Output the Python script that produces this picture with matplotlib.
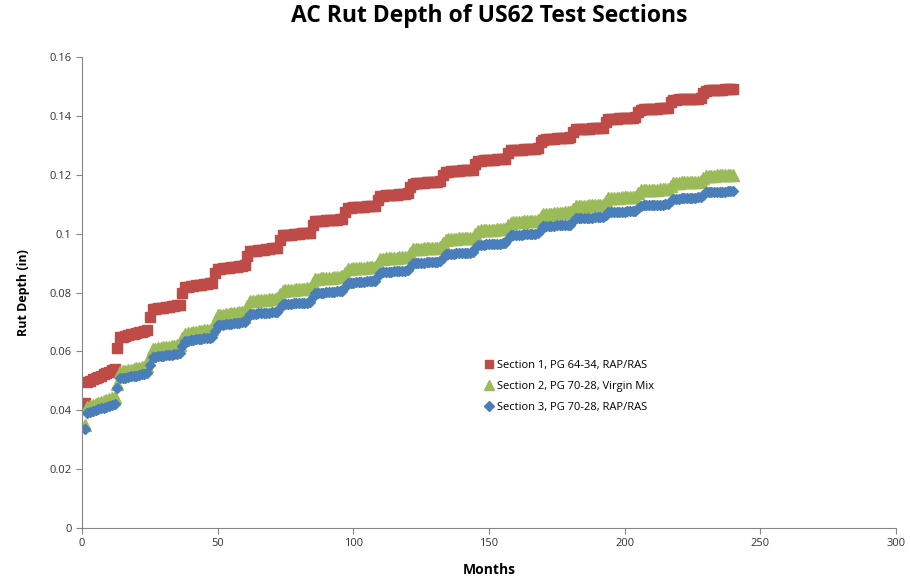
import matplotlib.pyplot as plt

# Monthly rut depth (in), one row per year
months = list(range(1, 241))

section1 = [
    0.0425, 0.0496, 0.0500, 0.0505, 0.0509, 0.0514, 0.0518, 0.0522, 0.0527, 0.0531, 0.0536, 0.0540,
    0.0610, 0.0648, 0.0650, 0.0653, 0.0655, 0.0658, 0.0660, 0.0662, 0.0665, 0.0667, 0.0670, 0.0672,
    0.0718, 0.0743, 0.0745, 0.0746, 0.0748, 0.0749, 0.0751, 0.0752, 0.0754, 0.0755, 0.0757, 0.0758,
    0.0798, 0.0818, 0.0819, 0.0821, 0.0822, 0.0824, 0.0825, 0.0826, 0.0828, 0.0829, 0.0831, 0.0832,
    0.0866, 0.0880, 0.0881, 0.0882, 0.0884, 0.0885, 0.0886, 0.0887, 0.0888, 0.0890, 0.0891, 0.0892,
    0.0925, 0.0940, 0.0941, 0.0942, 0.0944, 0.0945, 0.0946, 0.0947, 0.0948, 0.0950, 0.0951, 0.0952,
    0.0978, 0.0995, 0.0996, 0.0997, 0.0997, 0.0998, 0.0999, 0.1000, 0.1001, 0.1001, 0.1002, 0.1003,
    0.1028, 0.1042, 0.1043, 0.1044, 0.1044, 0.1045, 0.1046, 0.1047, 0.1048, 0.1048, 0.1049, 0.1050,
    0.1073, 0.1087, 0.1088, 0.1089, 0.1089, 0.1090, 0.1091, 0.1092, 0.1093, 0.1093, 0.1094, 0.1095,
    0.1116, 0.1128, 0.1129, 0.1130, 0.1131, 0.1132, 0.1133, 0.1133, 0.1134, 0.1135, 0.1136, 0.1137,
    0.1158, 0.1170, 0.1171, 0.1172, 0.1172, 0.1173, 0.1174, 0.1175, 0.1176, 0.1176, 0.1177, 0.1178,
    0.1198, 0.1210, 0.1211, 0.1212, 0.1212, 0.1213, 0.1214, 0.1215, 0.1216, 0.1216, 0.1217, 0.1218,
    0.1236, 0.1247, 0.1248, 0.1249, 0.1249, 0.1250, 0.1251, 0.1252, 0.1253, 0.1253, 0.1254, 0.1255,
    0.1273, 0.1284, 0.1285, 0.1285, 0.1286, 0.1286, 0.1287, 0.1287, 0.1288, 0.1288, 0.1289, 0.1290,
    0.1310, 0.1320, 0.1321, 0.1321, 0.1322, 0.1323, 0.1324, 0.1324, 0.1325, 0.1326, 0.1326, 0.1327,
    0.1345, 0.1355, 0.1355, 0.1356, 0.1356, 0.1357, 0.1357, 0.1358, 0.1358, 0.1359, 0.1359, 0.1360,
    0.1380, 0.1390, 0.1390, 0.1391, 0.1391, 0.1392, 0.1392, 0.1393, 0.1393, 0.1394, 0.1394, 0.1395,
    0.1413, 0.1422, 0.1423, 0.1423, 0.1424, 0.1424, 0.1425, 0.1425, 0.1426, 0.1426, 0.1427, 0.1428,
    0.1446, 0.1455, 0.1455, 0.1456, 0.1456, 0.1457, 0.1457, 0.1458, 0.1458, 0.1459, 0.1459, 0.1460,
    0.1478, 0.1486, 0.1487, 0.1487, 0.1488, 0.1488, 0.1489, 0.1489, 0.1490, 0.1490, 0.1491, 0.1492,
]

section2 = [
    0.0350, 0.0410, 0.0414, 0.0417, 0.0421, 0.0424, 0.0428, 0.0431, 0.0435, 0.0438, 0.0442, 0.0445,
    0.0490, 0.0530, 0.0532, 0.0534, 0.0536, 0.0538, 0.0540, 0.0542, 0.0544, 0.0546, 0.0548, 0.0550,
    0.0585, 0.0608, 0.0609, 0.0611, 0.0612, 0.0614, 0.0615, 0.0616, 0.0618, 0.0619, 0.0621, 0.0622,
    0.0645, 0.0660, 0.0662, 0.0663, 0.0665, 0.0666, 0.0668, 0.0669, 0.0671, 0.0672, 0.0674, 0.0675,
    0.0700, 0.0722, 0.0723, 0.0725, 0.0726, 0.0727, 0.0729, 0.0730, 0.0731, 0.0733, 0.0734, 0.0735,
    0.0755, 0.0770, 0.0771, 0.0772, 0.0773, 0.0774, 0.0775, 0.0776, 0.0777, 0.0778, 0.0779, 0.0780,
    0.0795, 0.0806, 0.0807, 0.0808, 0.0809, 0.0810, 0.0811, 0.0811, 0.0812, 0.0813, 0.0814, 0.0815,
    0.0832, 0.0846, 0.0847, 0.0848, 0.0849, 0.0850, 0.0851, 0.0851, 0.0852, 0.0853, 0.0854, 0.0855,
    0.0868, 0.0880, 0.0881, 0.0882, 0.0882, 0.0883, 0.0884, 0.0885, 0.0886, 0.0886, 0.0887, 0.0888,
    0.0902, 0.0914, 0.0915, 0.0916, 0.0916, 0.0917, 0.0918, 0.0919, 0.0920, 0.0920, 0.0921, 0.0922,
    0.0936, 0.0947, 0.0948, 0.0948, 0.0949, 0.0950, 0.0951, 0.0951, 0.0952, 0.0953, 0.0953, 0.0954,
    0.0968, 0.0980, 0.0981, 0.0981, 0.0982, 0.0983, 0.0984, 0.0984, 0.0985, 0.0986, 0.0986, 0.0987,
    0.0999, 0.1010, 0.1011, 0.1011, 0.1012, 0.1013, 0.1014, 0.1014, 0.1015, 0.1016, 0.1016, 0.1017,
    0.1028, 0.1038, 0.1039, 0.1039, 0.1040, 0.1041, 0.1042, 0.1042, 0.1043, 0.1044, 0.1044, 0.1045,
    0.1056, 0.1066, 0.1067, 0.1067, 0.1068, 0.1069, 0.1070, 0.1070, 0.1071, 0.1072, 0.1072, 0.1073,
    0.1084, 0.1093, 0.1094, 0.1094, 0.1095, 0.1095, 0.1096, 0.1096, 0.1097, 0.1097, 0.1098, 0.1099,
    0.1110, 0.1120, 0.1121, 0.1121, 0.1122, 0.1122, 0.1123, 0.1123, 0.1124, 0.1124, 0.1125, 0.1126,
    0.1137, 0.1147, 0.1148, 0.1148, 0.1149, 0.1149, 0.1150, 0.1150, 0.1151, 0.1151, 0.1152, 0.1153,
    0.1163, 0.1172, 0.1173, 0.1173, 0.1174, 0.1174, 0.1175, 0.1175, 0.1176, 0.1176, 0.1177, 0.1178,
    0.1188, 0.1196, 0.1196, 0.1197, 0.1197, 0.1198, 0.1198, 0.1199, 0.1199, 0.1200, 0.1200, 0.1201,
]

section3 = [
    0.0335, 0.0390, 0.0393, 0.0396, 0.0400, 0.0403, 0.0406, 0.0409, 0.0412, 0.0416, 0.0419, 0.0422,
    0.0475, 0.0508, 0.0510, 0.0511, 0.0513, 0.0515, 0.0517, 0.0518, 0.0520, 0.0522, 0.0523, 0.0525,
    0.0555, 0.0580, 0.0581, 0.0583, 0.0584, 0.0585, 0.0587, 0.0588, 0.0589, 0.0590, 0.0592, 0.0593,
    0.0618, 0.0636, 0.0637, 0.0638, 0.0640, 0.0641, 0.0642, 0.0643, 0.0644, 0.0646, 0.0647, 0.0648,
    0.0670, 0.0688, 0.0689, 0.0690, 0.0692, 0.0693, 0.0694, 0.0695, 0.0696, 0.0698, 0.0699, 0.0700,
    0.0715, 0.0726, 0.0727, 0.0728, 0.0729, 0.0730, 0.0731, 0.0731, 0.0732, 0.0733, 0.0734, 0.0735,
    0.0748, 0.0760, 0.0761, 0.0761, 0.0762, 0.0763, 0.0764, 0.0764, 0.0765, 0.0766, 0.0766, 0.0767,
    0.0784, 0.0798, 0.0799, 0.0799, 0.0800, 0.0801, 0.0802, 0.0802, 0.0803, 0.0804, 0.0804, 0.0805,
    0.0820, 0.0833, 0.0834, 0.0834, 0.0835, 0.0836, 0.0837, 0.0837, 0.0838, 0.0839, 0.0839, 0.0840,
    0.0855, 0.0868, 0.0869, 0.0869, 0.0870, 0.0871, 0.0872, 0.0872, 0.0873, 0.0874, 0.0874, 0.0875,
    0.0888, 0.0900, 0.0901, 0.0901, 0.0902, 0.0902, 0.0903, 0.0903, 0.0904, 0.0904, 0.0905, 0.0906,
    0.0918, 0.0930, 0.0931, 0.0931, 0.0932, 0.0933, 0.0934, 0.0934, 0.0935, 0.0936, 0.0936, 0.0937,
    0.0950, 0.0962, 0.0963, 0.0963, 0.0964, 0.0964, 0.0965, 0.0965, 0.0966, 0.0966, 0.0967, 0.0968,
    0.0982, 0.0995, 0.0996, 0.0996, 0.0997, 0.0997, 0.0998, 0.0998, 0.0999, 0.0999, 0.1000, 0.1001,
    0.1013, 0.1025, 0.1026, 0.1026, 0.1027, 0.1027, 0.1028, 0.1028, 0.1029, 0.1029, 0.1030, 0.1031,
    0.1042, 0.1052, 0.1053, 0.1053, 0.1054, 0.1054, 0.1055, 0.1055, 0.1056, 0.1056, 0.1057, 0.1058,
    0.1065, 0.1072, 0.1073, 0.1073, 0.1074, 0.1074, 0.1075, 0.1075, 0.1076, 0.1076, 0.1077, 0.1078,
    0.1086, 0.1095, 0.1096, 0.1096, 0.1097, 0.1097, 0.1098, 0.1098, 0.1099, 0.1099, 0.1100, 0.1101,
    0.1110, 0.1118, 0.1119, 0.1119, 0.1120, 0.1120, 0.1121, 0.1121, 0.1122, 0.1122, 0.1123, 0.1124,
    0.1132, 0.1140, 0.1140, 0.1141, 0.1141, 0.1142, 0.1142, 0.1143, 0.1143, 0.1144, 0.1144, 0.1145,
]

labels = ["Section 1, PG 64-34, RAP/RAS",
          "Section 2, PG 70-28, Virgin Mix",
          "Section 3, PG 70-28, RAP/RAS"]
x_ticks = [0, 50, 100, 150, 200, 250, 300]
y_ticks = [0, 0.02, 0.04, 0.06, 0.08, 0.1, 0.12, 0.14, 0.16]
y_tick_labels = ["0", "0.02", "0.04", "0.06", "0.08", "0.1", "0.12", "0.14", "0.16"]

plt.rcParams["font.family"] = ["Open Sans", "DejaVu Sans"]

fig = plt.figure(figsize=(9.11, 5.77), dpi=100)
ax = fig.add_axes([0.09, 0.085, 0.8935, 0.816])

ax.plot(months, section1, linestyle="none", marker="s", markersize=7,
        color="#BE4B48", label=labels[0])
ax.plot(months, section2, linestyle="none", marker="^", markersize=8,
        color="#9BBB59", label=labels[1])
ax.plot(months, section3, linestyle="none", marker="D", markersize=5.5,
        color="#4A7EBB", label=labels[2])

ax.set_xlim(0, 300)
ax.set_ylim(0, 0.16)
ax.set_xticks(x_ticks)
ax.set_yticks(y_ticks)
ax.set_yticklabels(y_tick_labels)
ax.tick_params(labelsize=8, length=4, color="#868686", colors="#333333")

for side in ["top", "right"]:
    ax.spines[side].set_visible(False)
for side in ["left", "bottom"]:
    ax.spines[side].set_color("#868686")

ax.set_title("AC Rut Depth of US62 Test Sections", fontsize=16.5, fontweight="bold", pad=25)
ax.set_xlabel("Months", fontsize=10, fontweight="bold", labelpad=10)
ax.set_ylabel("Rut Depth (in)", fontsize=9, fontweight="bold", labelpad=14)

ax.legend(loc="upper left", bbox_to_anchor=(0.48, 0.378), frameon=False,
          fontsize=8, handletextpad=0.1, handlelength=1.2, labelspacing=0.9,
          markerscale=0.85)

plt.savefig("out.png")
